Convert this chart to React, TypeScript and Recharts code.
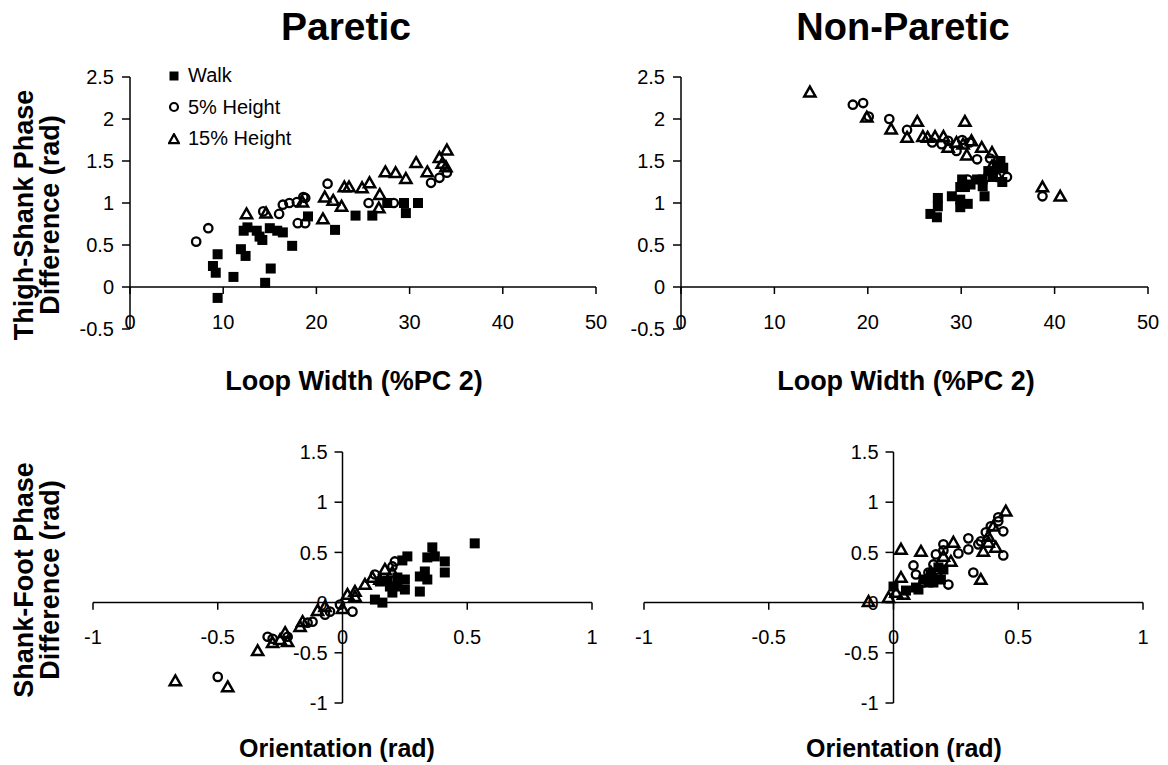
import React from 'react';
import { ScatterChart, Scatter, XAxis, YAxis, ReferenceLine, Legend } from 'recharts';

const FONT = '"Liberation Sans", Arial, sans-serif';

// ---- Data (Paretic, top: Loop Width vs Thigh-Shank phase difference) ----
const pTopWalk = [[8.9,0.25],[9.2,0.17],[9.4,0.39],[9.4,-0.13],[11.1,0.12],[11.9,0.45],[12.4,0.37],[12.2,0.67],[12.6,0.71],[13.6,0.67],[13.9,0.6],[14.2,0.56],[14.5,0.05],[15.1,0.22],[15.0,0.7],[15.8,0.67],[16.4,0.65],[17.4,0.49],[19.1,0.84],[22.0,0.68],[24.2,0.85],[26.0,0.85],[27.6,1.0],[29.4,1.0],[29.6,0.88],[30.9,1.0]];
const pTopH5 = [[7.1,0.54],[8.4,0.7],[14.3,0.9],[16.0,0.87],[16.4,0.98],[17.1,1.0],[17.9,1.01],[18.6,1.07],[18.0,0.76],[18.8,0.76],[18.8,1.06],[21.2,1.23],[25.6,1.0],[28.3,1.0],[32.3,1.24],[33.2,1.3],[34.0,1.36]];
const pTopH15 = [[12.5,0.87],[14.6,0.88],[18.5,1.01],[20.9,1.07],[21.8,1.03],[22.7,0.96],[20.7,0.81],[23.0,1.19],[23.5,1.19],[24.9,1.18],[25.7,1.24],[26.8,1.1],[26.7,0.94],[27.4,1.37],[28.5,1.36],[29.6,1.29],[30.7,1.48],[31.9,1.37],[33.2,1.54],[34.0,1.63],[33.9,1.43],[33.5,1.47]];

// ---- Data (Non-Paretic, top) ----
const npTopWalk = [[26.7,0.87],[27.4,0.83],[27.5,1.06],[27.5,0.96],[29.0,1.08],[29.9,1.04],[30.7,0.99],[29.9,0.95],[30.1,1.28],[30.4,1.19],[29.9,1.19],[31.7,1.28],[32.3,1.28],[32.3,1.2],[32.5,1.08],[32.9,1.38],[33.4,1.31],[34.2,1.5],[34.5,1.42],[34.4,1.25],[31.0,1.22],[33.8,1.45]];
const npTopH5 = [[18.4,2.17],[19.5,2.19],[20.1,2.03],[22.3,2.0],[24.2,1.87],[26.9,1.72],[27.9,1.7],[28.6,1.74],[29.5,1.62],[30.1,1.75],[31.7,1.52],[33.1,1.53],[30.7,1.28],[32.8,1.31],[33.8,1.31],[34.9,1.31],[38.7,1.08],[30.9,1.72]];
const npTopH15 = [[13.8,2.32],[19.9,2.02],[22.5,1.88],[24.2,1.78],[25.3,1.97],[25.9,1.79],[26.4,1.78],[27.2,1.79],[28.1,1.79],[28.6,1.66],[29.5,1.72],[30.2,1.7],[31.1,1.74],[32.2,1.66],[33.3,1.6],[33.3,1.44],[33.9,1.42],[30.6,1.57],[30.4,1.97],[38.7,1.19],[40.6,1.08]];

// ---- Data (Paretic, bottom: Orientation vs Shank-Foot phase difference) ----
const pBotWalk = [[0.13,0.03],[0.16,0.0],[0.26,0.46],[0.24,0.42],[0.15,0.21],[0.19,0.16],[0.2,0.1],[0.22,0.16],[0.25,0.13],[0.25,0.23],[0.31,0.11],[0.31,0.26],[0.33,0.31],[0.34,0.23],[0.34,0.45],[0.36,0.55],[0.37,0.46],[0.41,0.41],[0.41,0.3],[0.53,0.59],[0.18,0.22],[0.22,0.25]];
const pBotH5 = [[-0.5,-0.74],[-0.3,-0.34],[-0.28,-0.36],[-0.14,-0.2],[-0.12,-0.19],[-0.07,-0.12],[-0.05,-0.09],[-0.01,-0.02],[0.04,-0.09],[0.13,0.28],[0.2,0.36],[0.21,0.41],[-0.22,-0.34]];
const pBotH15 = [[-0.67,-0.78],[-0.46,-0.84],[-0.34,-0.48],[-0.28,-0.4],[-0.25,-0.37],[-0.23,-0.3],[-0.22,-0.39],[-0.17,-0.24],[-0.16,-0.19],[-0.07,-0.04],[0.0,-0.06],[0.02,0.08],[0.05,0.11],[0.05,0.06],[0.09,0.18],[0.12,0.25],[0.15,0.23],[0.17,0.33],[0.2,0.3],[-0.1,-0.08]];

// ---- Data (Non-Paretic, bottom) ----
const npBotWalk = [[0.0,0.16],[0.09,0.15],[0.12,0.23],[0.15,0.28],[0.18,0.35],[0.2,0.33],[0.16,0.2],[0.1,0.13],[0.19,0.23],[0.05,0.12],[0.14,0.2]];
const npBotH5 = [[0.08,0.37],[0.09,0.28],[0.14,0.3],[0.16,0.38],[0.17,0.48],[0.2,0.58],[0.3,0.64],[0.26,0.49],[0.3,0.53],[0.22,0.18],[0.18,0.25],[0.32,0.3],[0.35,0.61],[0.37,0.7],[0.39,0.76],[0.42,0.81],[0.42,0.85],[0.44,0.71],[0.44,0.47],[0.34,0.58],[0.12,0.2],[0.2,0.52]];
const npBotH15 = [[-0.1,0.01],[0.03,0.53],[0.11,0.51],[-0.02,0.05],[0.04,0.08],[0.03,0.25],[0.24,0.6],[0.2,0.46],[0.23,0.41],[0.35,0.23],[0.45,0.91],[0.4,0.76],[0.38,0.66],[0.41,0.55],[0.36,0.51],[0.38,0.6],[0.01,0.1],[0.15,0.3]];

// ---- Axis ticks / labels ----
const topXTicks = [0, 10, 20, 30, 40, 50];
const topYTicks = [-0.5, 0, 0.5, 1, 1.5, 2, 2.5];
const botXTicks = [-1, -0.5, 0, 0.5, 1];
const botYTicks = [-1, -0.5, 0, 0.5, 1, 1.5];
const seriesNames = ['Walk', '5% Height', '15% Height'];
const panelTitles = ['Paretic', 'Non-Paretic'];
const yTitlesTop = ['Thigh-Shank Phase', 'Difference (rad)'];
const yTitlesBot = ['Shank-Foot Phase', 'Difference (rad)'];
const xTitleTop = 'Loop Width (%PC 2)';
const xTitleBot = 'Orientation (rad)';

const toPts = (a: number[][]) => a.map(([x, y]) => ({ x, y }));

const SquareShape = (p: any) => (
  <rect x={p.cx - 5} y={p.cy - 5} width={10} height={10} fill="#000" />
);
const CircleShape = (p: any) => (
  <circle cx={p.cx} cy={p.cy} r={4.2} fill="none" stroke="#000" strokeWidth={2.3} />
);
const TriangleShape = (p: any) => (
  <polygon
    points={`${p.cx},${p.cy - 5.5} ${p.cx + 5.6},${p.cy + 4.3} ${p.cx - 5.6},${p.cy + 4.3}`}
    fill="none"
    stroke="#000"
    strokeWidth={2.5}
  />
);

const LegendMarker = ({ type }: { type: string }) => (
  <svg width={12} height={12} style={{ display: 'block' }}>
    {type === 'square' && <rect x={1.5} y={1.5} width={9} height={9} fill="#000" />}
    {type === 'circle' && <circle cx={6} cy={6} r={4} fill="none" stroke="#000" strokeWidth={2.2} />}
    {type === 'triangle' && (
      <polygon points="6,1.2 11,10.2 1,10.2" fill="none" stroke="#000" strokeWidth={2.3} />
    )}
  </svg>
);

const legendContent = (props: any) => {
  const items = [...(props.payload || [])].sort(
    (a: any, b: any) => seriesNames.indexOf(a.value) - seriesNames.indexOf(b.value)
  );
  return (
    <div style={{ fontFamily: FONT, fontSize: 20, color: '#000' }}>
      {items.map((e: any) => (
        <div key={e.value} style={{ display: 'flex', alignItems: 'center', height: 31.5 }}>
          <LegendMarker type={e.type} />
          <span style={{ marginLeft: 8 }}>{e.value}</span>
        </div>
      ))}
    </div>
  );
};

const AX = { stroke: '#000', strokeWidth: 1.5 };
const tickFont = { fontSize: 20, fill: '#000', fontFamily: FONT };

function TopPanel({ left, ml, mr, walk, h5, h15, legend }: any) {
  return (
    <div style={{ position: 'absolute', left, top: 60 }}>
      <ScatterChart width={560} height={300} margin={{ top: 17, right: mr, bottom: 31, left: ml }}>
        <XAxis type="number" dataKey="x" domain={[0, 50]} ticks={topXTicks} hide />
        <YAxis
          type="number"
          dataKey="y"
          domain={[-0.5, 2.5]}
          ticks={topYTicks}
          interval={0}
          width={40}
          tickSize={8}
          tickMargin={8}
          axisLine={AX}
          tickLine={AX}
          tick={tickFont}
        />
        <ReferenceLine y={0} {...AX} />
        {topXTicks.map((v) => (
          <ReferenceLine
            key={'xt' + v}
            segment={[{ x: v, y: 0 }, { x: v, y: -0.083 }]}
            {...AX}
            label={{ value: String(v), position: 'bottom', offset: 21, ...tickFont }}
          />
        ))}
        {legend && (
          <Legend
            layout="vertical"
            align="center"
            verticalAlign="middle"
            wrapperStyle={{ left: 108, top: 0, width: 200 }}
            content={legendContent}
          />
        )}
        <Scatter name={seriesNames[0]} data={toPts(walk)} legendType="square" fill="#000" shape={SquareShape} isAnimationActive={false} />
        <Scatter name={seriesNames[1]} data={toPts(h5)} legendType="circle" fill="#000" shape={CircleShape} isAnimationActive={false} />
        <Scatter name={seriesNames[2]} data={toPts(h15)} legendType="triangle" fill="#000" shape={TriangleShape} isAnimationActive={false} />
      </ScatterChart>
    </div>
  );
}

function BottomPanel({ left, ml, mr, walk, h5, h15 }: any) {
  return (
    <div style={{ position: 'absolute', left, top: 430 }}>
      <ScatterChart width={560} height={320} margin={{ top: 22, right: mr, bottom: 47, left: ml }}>
        <XAxis type="number" dataKey="x" domain={[-1, 1]} ticks={botXTicks} hide />
        <YAxis type="number" dataKey="y" domain={[-1, 1.5]} ticks={botYTicks} hide />
        <ReferenceLine y={0} {...AX} />
        <ReferenceLine x={0} {...AX} />
        {botXTicks.map((v) => (
          <ReferenceLine
            key={'xt' + v}
            segment={[{ x: v, y: 0 }, { x: v, y: -0.07 }]}
            {...AX}
            label={{ value: String(v), position: 'bottom', offset: 20, ...tickFont }}
          />
        ))}
        {botYTicks.map((v) => (
          <ReferenceLine
            key={'yt' + v}
            segment={[{ x: -0.032, y: v }, { x: 0, y: v }]}
            {...AX}
            label={{ value: String(v), position: 'left', offset: 7, ...tickFont }}
          />
        ))}
        <Scatter name={seriesNames[0]} data={toPts(walk)} fill="#000" shape={SquareShape} isAnimationActive={false} />
        <Scatter name={seriesNames[1]} data={toPts(h5)} fill="#000" shape={CircleShape} isAnimationActive={false} />
        <Scatter name={seriesNames[2]} data={toPts(h15)} fill="#000" shape={TriangleShape} isAnimationActive={false} />
      </ScatterChart>
    </div>
  );
}

export default function App() {
  const titleStyle = { fontFamily: FONT, fontWeight: 'bold' as const, fill: '#000' };
  return (
    <div style={{ position: 'absolute', left: 0, top: 0, width: 1168, height: 765, background: '#fff', overflow: 'hidden' }}>
      <TopPanel left={60} ml={30} mr={24} walk={pTopWalk} h5={pTopH5} h15={pTopH15} legend />
      <TopPanel left={600} ml={41} mr={12} walk={npTopWalk} h5={npTopH5} h15={npTopH15} />
      <BottomPanel left={60} ml={33} mr={28} walk={pBotWalk} h5={pBotH5} h15={pBotH15} />
      <BottomPanel left={600} ml={44} mr={17} walk={npBotWalk} h5={npBotH5} h15={npBotH15} />
      <svg width={1168} height={765} style={{ position: 'absolute', left: 0, top: 0, pointerEvents: 'none' }}>
        <text x={346} y={40} textAnchor="middle" fontSize={39} {...titleStyle}>{panelTitles[0]}</text>
        <text x={903} y={40} textAnchor="middle" fontSize={38} {...titleStyle}>{panelTitles[1]}</text>
        <text transform="translate(33,215) rotate(-90)" textAnchor="middle" fontSize={27} {...titleStyle}>{yTitlesTop[0]}</text>
        <text transform="translate(59,215) rotate(-90)" textAnchor="middle" fontSize={27} {...titleStyle}>{yTitlesTop[1]}</text>
        <text transform="translate(33,580) rotate(-90)" textAnchor="middle" fontSize={27} {...titleStyle}>{yTitlesBot[0]}</text>
        <text transform="translate(59,580) rotate(-90)" textAnchor="middle" fontSize={27} {...titleStyle}>{yTitlesBot[1]}</text>
        <text x={354} y={390} textAnchor="middle" fontSize={27} {...titleStyle}>{xTitleTop}</text>
        <text x={906} y={390} textAnchor="middle" fontSize={27} {...titleStyle}>{xTitleTop}</text>
        <text x={337} y={757} textAnchor="middle" fontSize={25} {...titleStyle}>{xTitleBot}</text>
        <text x={904} y={757} textAnchor="middle" fontSize={25} {...titleStyle}>{xTitleBot}</text>
      </svg>
    </div>
  );
}
